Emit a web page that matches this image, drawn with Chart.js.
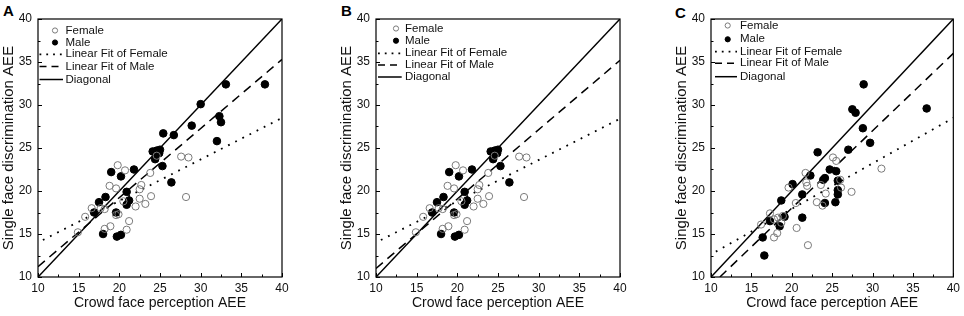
<!DOCTYPE html>
<html><head><meta charset="utf-8">
<script src="https://cdn.jsdelivr.net/npm/chart.js@4/dist/chart.umd.min.js"></script>
<style>
html,body{margin:0;padding:0;background:#fff;width:964px;height:316px;overflow:hidden}
.p{position:absolute;top:0}
.lab{position:absolute;font:bold 15px "Liberation Sans",Arial,sans-serif;color:#000;line-height:15px}
</style></head><body>
<div class="lab" style="left:3px;top:3px">A</div>
<div class="lab" style="left:341px;top:3px">B</div>
<div class="lab" style="left:675px;top:5px">C</div>
<div class="p" style="left:0px"><canvas id="cA" width="300" height="316"></canvas></div>
<div class="p" style="left:338px"><canvas id="cB" width="300" height="316"></canvas></div>
<div class="p" style="left:673px"><canvas id="cC" width="291" height="316"></canvas></div>
<script>
// ---------- data ----------
const axisTicks = [10, 15, 20, 25, 30, 35, 40];
const minorTicks = [12.5, 17.5, 22.5, 27.5, 32.5, 37.5];
const seriesLabels = ['Female', 'Male', 'Linear Fit of Female', 'Linear Fit of Male', 'Diagonal'];
const xTitle = 'Crowd face perception AEE';
const yTitle = 'Single face discrimination AEE';
const diagonal = [[10, 10], [40, 40]];

const femaleA = [[14.9,15.2],[15.8,17.0],[16.6,18.0],[17.7,18.0],[18.2,17.9],[18.8,20.6],[19.6,20.3],[19.8,23.0],
  [20.7,22.4],[23.8,22.1],[22.7,20.7],[22.5,20.2],[22.5,19.1],[23.2,18.5],[23.9,19.4],[20.5,18.8],[22.0,18.2],
  [19.6,17.2],[19.9,17.3],[21.2,16.5],[18.2,15.6],[18.9,15.9],[20.9,15.5],[27.6,24.0],[28.5,23.9],[28.2,19.3],[24.6,24.1]];
const maleA = [[33.1,32.4],[37.9,32.4],[30.0,30.1],[32.3,28.7],[32.5,28.0],[28.9,27.6],[26.7,26.5],[25.4,26.7],
  [32.0,25.8],[24.1,24.6],[24.6,24.7],[25.0,24.8],[24.9,24.4],[24.5,24.3],[24.4,23.7],[25.3,22.9],[26.4,21.0],
  [19.0,22.2],[20.2,21.7],[21.8,22.5],[20.9,19.9],[17.5,18.7],[18.3,19.3],[21.2,18.9],[20.9,18.4],[16.9,17.5],
  [19.6,17.5],[18.0,15.0],[19.7,14.7],[20.2,14.9]];
const fitFemaleA = [[10.6,14.3],[40,28.5]];
const fitMaleA = [[10,11.2],[40,35.3]];

const femaleB = [[14.9,15.2],[15.8,17.0],[16.6,18.0],[17.7,18.0],[18.2,17.9],[18.8,20.6],[19.6,20.3],[19.8,23.0],
  [20.7,22.4],[23.8,22.1],[22.7,20.7],[22.5,20.2],[22.5,19.1],[23.2,18.5],[23.9,19.4],[20.5,18.8],[22.0,18.2],
  [19.6,17.2],[19.9,17.3],[21.2,16.5],[18.2,15.6],[18.9,15.9],[20.9,15.5],[27.6,24.0],[28.5,23.9],[28.2,19.3],[24.6,24.1]];
const maleB = [[24.1,24.6],[24.6,24.7],[25.0,24.8],[24.9,24.4],[24.5,24.3],[24.4,23.7],[25.3,22.9],[26.4,21.0],
  [19.0,22.2],[20.2,21.7],[21.8,22.5],[20.9,19.9],[17.5,18.7],[18.3,19.3],[21.2,18.9],[20.9,18.4],[16.9,17.5],
  [19.6,17.5],[18.0,15.0],[19.7,14.7],[20.2,14.9]];
const fitFemaleB = [[10.6,14.3],[40,28.4]];
const fitMaleB = [[10,11.0],[40,35.2]];

const femaleC = [[25.1,23.9],[25.5,23.5],[21.7,22.1],[21.8,21.0],[21.9,20.6],[19.6,20.4],[20.5,18.6],[20.6,15.7],
  [22.0,13.7],[23.1,18.7],[23.8,18.3],[23.6,20.7],[24.2,19.7],[26.0,21.3],[26.1,20.4],[27.4,19.9],[31.1,22.6],
  [17.3,17.4],[16.2,16.1],[17.8,16.7],[18.3,16.9],[18.7,16.3],[18.9,17.1],[17.8,14.6],[18.2,15.1]];
const maleC = [[28.9,32.4],[27.5,29.5],[27.9,29.1],[36.7,29.6],[28.8,27.3],[29.7,25.6],[27.0,24.8],[23.2,24.5],
  [24.7,22.5],[25.5,22.3],[22.3,21.8],[23.9,21.3],[24.1,21.5],[25.7,21.2],[20.1,20.8],[21.3,19.6],[25.7,20.1],
  [25.7,19.6],[24.1,18.6],[25.4,18.7],[18.7,18.9],[19.1,17.0],[21.3,16.9],[17.3,16.5],[18.5,15.9],[16.4,14.6],[16.6,12.5]];
const fitFemaleC = [[10.6,12.95],[40,28.5]];
const fitMaleC = [[11.1,10],[40,36.0]];

// ---------- drawing ----------
const FONT = '"Liberation Sans", Arial, sans-serif';
const pts = a => a.map(p => ({x: p[0], y: p[1]}));

const framePlugin = {
  id: 'frame',
  afterDatasetsDraw(chart) {
    const {ctx, chartArea: a, scales: {x, y}} = chart;
    ctx.save();
    ctx.strokeStyle = '#000';
    ctx.lineWidth = 1.2;
    ctx.strokeRect(a.left, a.top, a.right - a.left, a.bottom - a.top);
    ctx.lineWidth = 1;
    ctx.beginPath();
    axisTicks.forEach(v => {
      const px = Math.round(x.getPixelForValue(v)) + 0.5;
      ctx.moveTo(px, a.bottom); ctx.lineTo(px, a.bottom - 4);
      const py = Math.round(y.getPixelForValue(v)) + 0.5;
      ctx.moveTo(a.left, py); ctx.lineTo(a.left + 4, py);
    });
    minorTicks.forEach(v => {
      const px = Math.round(x.getPixelForValue(v)) + 0.5;
      ctx.moveTo(px, a.bottom); ctx.lineTo(px, a.bottom - 2.5);
      const py = Math.round(y.getPixelForValue(v)) + 0.5;
      ctx.moveTo(a.left, py); ctx.lineTo(a.left + 2.5, py);
    });
    ctx.stroke();
    ctx.restore();
  }
};

const legendPlugin = {
  id: 'inlegend',
  afterDraw(chart, args, opts) {
    const {ctx, chartArea: a} = chart;
    ctx.save();
    ctx.font = '11.5px ' + FONT;
    ctx.textBaseline = 'middle';
    chart.data.datasets.forEach((ds, i) => {
      const cy = a.top + opts.rows[i];
      if (ds.type === 'scatter') {
        ctx.beginPath();
        ctx.arc(a.left + opts.symX, cy, 2.6, 0, Math.PI * 2);
        ctx.lineWidth = 1;
        ctx.strokeStyle = ds.borderColor;
        if (ds.backgroundColor !== 'transparent') { ctx.fillStyle = ds.backgroundColor; ctx.fill(); }
        ctx.stroke();
      } else {
        ctx.beginPath();
        ctx.setLineDash(ds.legendDash || []);
        ctx.lineWidth = ds.borderWidth;
        ctx.strokeStyle = ds.borderColor;
        ctx.moveTo(a.left + opts.lineFrom, cy); ctx.lineTo(a.left + opts.lineTo, cy);
        ctx.stroke();
        ctx.setLineDash([]);
      }
      ctx.fillStyle = '#111';
      ctx.fillText(ds.label, a.left + opts.textX, cy);
    });
    ctx.restore();
  }
};

function makeChart(id, female, male, fitF, fitM, padRight, legendOpts) {
  new Chart(document.getElementById(id), {
    data: {
      datasets: [
        {type: 'scatter', label: seriesLabels[0], data: pts(female), pointRadius: 3.6, pointStyle: 'circle',
         backgroundColor: 'transparent', borderColor: '#7a7a7a', borderWidth: 1},
        {type: 'scatter', label: seriesLabels[1], data: pts(male), pointRadius: 3.8, pointStyle: 'circle',
         backgroundColor: '#000', borderColor: '#000', borderWidth: 1},
        {type: 'line', label: seriesLabels[2], data: pts(fitF), borderColor: '#000', borderWidth: 1.8,
         borderDash: [1.8, 6.2], legendDash: [1.8, 5], pointRadius: 0, fill: false, tension: 0},
        {type: 'line', label: seriesLabels[3], data: pts(fitM), borderColor: '#000', borderWidth: 1.5,
         borderDash: [9, 6], legendDash: [7, 5], pointRadius: 0, fill: false, tension: 0},
        {type: 'line', label: seriesLabels[4], data: pts(diagonal), borderColor: '#000', borderWidth: 1.5,
         pointRadius: 0, fill: false, tension: 0}
      ]
    },
    options: {
      responsive: false, animation: false, devicePixelRatio: 1,
      layout: {padding: {left: 0, right: padRight, top: 19, bottom: 0}},
      plugins: {legend: {display: false}, tooltip: {enabled: false}, inlegend: legendOpts},
      scales: {
        x: {type: 'linear', min: 10, max: 40,
            afterBuildTicks: s => { s.ticks = axisTicks.map(v => ({value: v})); },
            afterFit: s => { s.height = 39; },
            grid: {display: false, drawTicks: false}, border: {display: false},
            ticks: {font: {size: 12, family: FONT}, color: '#111', padding: 4, maxRotation: 0, autoSkip: false},
            title: {display: true, text: xTitle, color: '#111', font: {size: 14, family: FONT},
                    padding: {top: 0, bottom: 4}}},
        y: {type: 'linear', min: 10, max: 40,
            afterBuildTicks: s => { s.ticks = axisTicks.map(v => ({value: v})); },
            afterFit: s => { s.width = 38; },
            grid: {display: false, drawTicks: false}, border: {display: false},
            ticks: {font: {size: 12, family: FONT}, color: '#111', padding: 6, autoSkip: false},
            title: {display: true, text: yTitle, color: '#111', font: {size: 15, family: FONT},
                    padding: {top: 0, bottom: 0}}}
      }
    },
    plugins: [framePlugin, legendPlugin]
  });
}

makeChart('cA', femaleA, maleA, fitFemaleA, fitMaleA, 18,
  {symX: 17, textX: 27.5, lineFrom: 1.5, lineTo: 25, rows: [11.5, 23.5, 35.3, 47.5, 60.5]});
makeChart('cB', femaleB, maleB, fitFemaleB, fitMaleB, 18,
  {symX: 20, textX: 29, lineFrom: 2, lineTo: 25.7, rows: [9.5, 21.7, 34.3, 46, 58]});
makeChart('cC', femaleC, maleC, fitFemaleC, fitMaleC, 9,
  {symX: 16.7, textX: 29, lineFrom: 4, lineTo: 26, rows: [6.5, 20.3, 32.7, 44.3, 57.7]});
</script>
</body></html>
